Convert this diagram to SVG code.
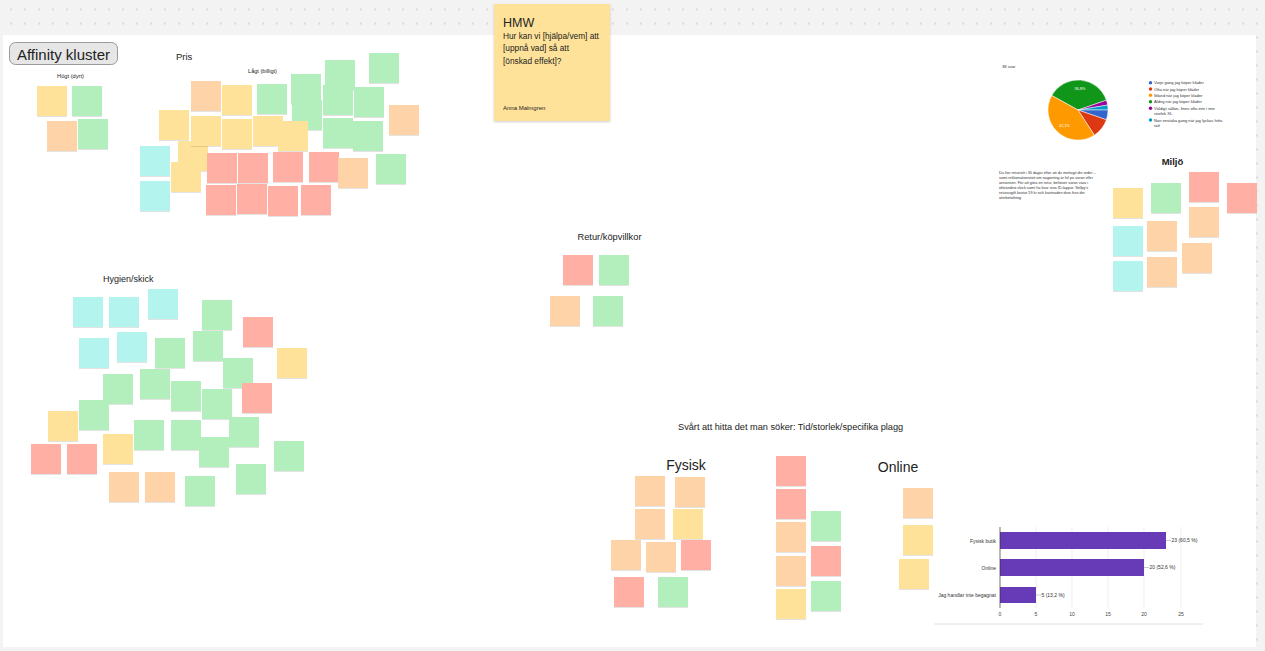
<svg xmlns="http://www.w3.org/2000/svg" width="1265" height="651" viewBox="0 0 1265 651">
<style>
text{font-family:"Liberation Sans",Arial,sans-serif;fill:#222}
.note rect{filter:url(#sh);width:30px;height:30px}
.y{fill:#FFE299}
.o{fill:#FFD3A8}
.r{fill:#FFAFA3}
.g{fill:#B3EFBD}
.c{fill:#B3F4EF}
.lg{font-size:4.1px;fill:#333}
.pa{font-size:3.8px;fill:#333}
.ax{font-size:5px;fill:#444}
.grid{stroke:#e3e3e3;stroke-width:0.6}
.bar{fill:#673AB7}
.lead{stroke:#999;stroke-width:0.5}
</style>
<defs>
<pattern id="dots" patternUnits="userSpaceOnUse" x="4" y="2.5" width="14" height="14">
<circle cx="7" cy="7" r="0.75" fill="#b9b9b9"/>
</pattern>
<filter id="sh" x="-20%" y="-20%" width="140%" height="150%">
<feDropShadow dx="0" dy="0.6" stdDeviation="0.6" flood-color="#000" flood-opacity="0.18"/>
</filter>
<filter id="sh2" x="-10%" y="-10%" width="120%" height="120%">
<feDropShadow dx="0" dy="1" stdDeviation="1" flood-color="#000" flood-opacity="0.2"/>
</filter>
</defs>

<rect x="0" y="0" width="1265" height="651" fill="#f3f3f3"/>
<rect x="0" y="0" width="1265" height="651" fill="url(#dots)"/>
<rect x="3" y="35" width="1253" height="612" fill="#ffffff"/>

<g id="connectors"></g>

<g id="title">
<rect x="9.5" y="42.5" width="108" height="22" rx="6" fill="#e6e6e6" stroke="#9a9a9a" stroke-width="1"/>
<text x="63.5" y="59.5" font-size="15" text-anchor="middle" fill="#1e1e1e">Affinity kluster</text>
</g>

<g id="hmw">
<rect x="494" y="4" width="116" height="117" fill="#FFE299" filter="url(#sh2)"/>
<text x="503" y="27" font-size="12.5" fill="#333">HMW</text>
<text x="503" y="39" font-size="8.3" fill="#333">Hur kan vi [hjälpa/vem] att</text>
<text x="503" y="51.3" font-size="8.3" fill="#333">[uppnå vad] så att</text>
<text x="503" y="63.6" font-size="8.3" fill="#333">[önskad effekt]?</text>
<text x="503" y="109.5" font-size="6" fill="#7a7a6a">Anna Malmgren</text>
</g>

<g id="pris-labels">
<text x="176" y="59.5" font-size="9.5">Pris</text>
<text x="70.5" y="78" font-size="5.7" text-anchor="middle">Högt (dyrt)</text>
<text x="262.5" y="73" font-size="5.6" text-anchor="middle">Lågt (billigt)</text>
</g>
<g id="hogt-1" class="note"><rect class="y" x="37" y="86"/></g>
<g id="hogt-2" class="note"><rect class="g" x="72" y="86"/></g>
<g id="hogt-3" class="note"><rect class="o" x="47" y="121"/></g>
<g id="hogt-4" class="note"><rect class="g" x="78" y="119"/></g>

<g id="pris-1" class="note"><rect class="o" x="191" y="81"/></g>
<g id="pris-2" class="note"><rect class="y" x="222" y="85"/></g>
<g id="pris-3" class="note"><rect class="g" x="257" y="84"/></g>
<g id="pris-4" class="note"><rect class="g" x="291" y="74"/></g>
<g id="pris-5" class="note"><rect class="g" x="292" y="100"/></g>
<g id="pris-6" class="note"><rect class="g" x="325" y="60"/></g>
<g id="pris-7" class="note"><rect class="g" x="323" y="85"/></g>
<g id="pris-8" class="note"><rect class="g" x="354" y="87"/></g>
<g id="pris-9" class="note"><rect class="g" x="369" y="53"/></g>
<g id="pris-10" class="note"><rect class="o" x="389" y="105"/></g>
<g id="pris-11" class="note"><rect class="g" x="323" y="118"/></g>
<g id="pris-12" class="note"><rect class="g" x="353" y="121"/></g>
<g id="pris-13" class="note"><rect class="g" x="376" y="154"/></g>
<g id="pris-14" class="note"><rect class="y" x="159" y="110"/></g>
<g id="pris-15" class="note"><rect class="y" x="178" y="141"/></g>
<g id="pris-16" class="note"><rect class="y" x="191" y="116"/></g>
<g id="pris-17" class="note"><rect class="y" x="222" y="119"/></g>
<g id="pris-18" class="note"><rect class="y" x="253" y="116"/></g>
<g id="pris-19" class="note"><rect class="y" x="278" y="121"/></g>
<g id="pris-20" class="note"><rect class="y" x="171" y="162"/></g>
<g id="pris-21" class="note"><rect class="c" x="140" y="146"/></g>
<g id="pris-22" class="note"><rect class="c" x="140" y="181"/></g>
<g id="pris-23" class="note"><rect class="r" x="207" y="153"/></g>
<g id="pris-24" class="note"><rect class="r" x="238" y="153"/></g>
<g id="pris-25" class="note"><rect class="r" x="273" y="152"/></g>
<g id="pris-26" class="note"><rect class="r" x="309" y="152"/></g>
<g id="pris-27" class="note"><rect class="o" x="338" y="158"/></g>
<g id="pris-28" class="note"><rect class="r" x="206" y="185"/></g>
<g id="pris-29" class="note"><rect class="r" x="237" y="184"/></g>
<g id="pris-30" class="note"><rect class="r" x="268" y="186"/></g>
<g id="pris-31" class="note"><rect class="r" x="301" y="185"/></g>

<g id="hygien-label"><text x="103" y="282" font-size="9">Hygien/skick</text></g>
<g id="hyg-1" class="note"><rect class="c" x="73" y="297"/></g>
<g id="hyg-2" class="note"><rect class="c" x="109" y="297"/></g>
<g id="hyg-3" class="note"><rect class="c" x="148" y="289"/></g>
<g id="hyg-4" class="note"><rect class="c" x="79" y="338"/></g>
<g id="hyg-5" class="note"><rect class="c" x="117" y="332"/></g>
<g id="hyg-6" class="note"><rect class="g" x="155" y="338"/></g>
<g id="hyg-7" class="note"><rect class="g" x="202" y="300"/></g>
<g id="hyg-8" class="note"><rect class="g" x="193" y="331"/></g>
<g id="hyg-9" class="note"><rect class="r" x="243" y="317"/></g>
<g id="hyg-10" class="note"><rect class="y" x="277" y="348"/></g>
<g id="hyg-11" class="note"><rect class="g" x="223" y="358"/></g>
<g id="hyg-12" class="note"><rect class="r" x="242" y="383"/></g>
<g id="hyg-13" class="note"><rect class="g" x="103" y="374"/></g>
<g id="hyg-14" class="note"><rect class="g" x="140" y="369"/></g>
<g id="hyg-15" class="note"><rect class="g" x="171" y="381"/></g>
<g id="hyg-16" class="note"><rect class="g" x="202" y="389"/></g>
<g id="hyg-17" class="note"><rect class="g" x="79" y="400"/></g>
<g id="hyg-18" class="note"><rect class="y" x="48" y="411"/></g>
<g id="hyg-19" class="note"><rect class="r" x="31" y="444"/></g>
<g id="hyg-20" class="note"><rect class="r" x="67" y="444"/></g>
<g id="hyg-21" class="note"><rect class="y" x="103" y="434"/></g>
<g id="hyg-22" class="note"><rect class="g" x="134" y="420"/></g>
<g id="hyg-23" class="note"><rect class="g" x="171" y="420"/></g>
<g id="hyg-24" class="note"><rect class="g" x="199" y="437"/></g>
<g id="hyg-25" class="note"><rect class="g" x="229" y="417"/></g>
<g id="hyg-26" class="note"><rect class="g" x="274" y="441"/></g>
<g id="hyg-27" class="note"><rect class="o" x="109" y="472"/></g>
<g id="hyg-28" class="note"><rect class="o" x="145" y="472"/></g>
<g id="hyg-29" class="note"><rect class="g" x="185" y="476"/></g>
<g id="hyg-30" class="note"><rect class="g" x="236" y="464"/></g>

<g id="retur-label"><text x="609.5" y="239.5" font-size="9.3" text-anchor="middle">Retur/köpvillkor</text></g>
<g id="retur-1" class="note"><rect class="r" x="563" y="255"/></g>
<g id="retur-2" class="note"><rect class="g" x="599" y="255"/></g>
<g id="retur-3" class="note"><rect class="o" x="550" y="296"/></g>
<g id="retur-4" class="note"><rect class="g" x="593" y="296"/></g>

<g id="svart-label"><text x="678" y="430" font-size="9.2">Svårt att hitta det man söker: Tid/storlek/specifika plagg</text></g>
<g id="fysisk-label"><text x="686" y="470" font-size="14" text-anchor="middle">Fysisk</text></g>
<g id="online-label"><text x="898" y="472" font-size="14" text-anchor="middle">Online</text></g>

<g id="fys-1" class="note"><rect class="o" x="635" y="476"/></g>
<g id="fys-2" class="note"><rect class="o" x="675" y="477"/></g>
<g id="fys-3" class="note"><rect class="o" x="635" y="509"/></g>
<g id="fys-4" class="note"><rect class="y" x="673" y="509"/></g>
<g id="fys-5" class="note"><rect class="o" x="611" y="540"/></g>
<g id="fys-6" class="note"><rect class="o" x="646" y="542"/></g>
<g id="fys-7" class="note"><rect class="r" x="681" y="540"/></g>
<g id="fys-8" class="note"><rect class="r" x="614" y="577"/></g>
<g id="fys-9" class="note"><rect class="g" x="658" y="577"/></g>

<g id="mid-1" class="note"><rect class="r" x="776" y="456"/></g>
<g id="mid-2" class="note"><rect class="r" x="776" y="489"/></g>
<g id="mid-3" class="note"><rect class="o" x="776" y="522"/></g>
<g id="mid-4" class="note"><rect class="o" x="776" y="556"/></g>
<g id="mid-5" class="note"><rect class="y" x="776" y="589"/></g>
<g id="mid-6" class="note"><rect class="g" x="811" y="511"/></g>
<g id="mid-7" class="note"><rect class="r" x="811" y="546"/></g>
<g id="mid-8" class="note"><rect class="g" x="811" y="581"/></g>

<g id="onl-1" class="note"><rect class="o" x="903" y="488"/></g>
<g id="onl-2" class="note"><rect class="y" x="903" y="525"/></g>
<g id="onl-3" class="note"><rect class="y" x="899" y="559"/></g>

<g id="bar-chart">
<line class="grid" x1="1036" y1="527" x2="1036" y2="608"/>
<line class="grid" x1="1072" y1="527" x2="1072" y2="608"/>
<line class="grid" x1="1108" y1="527" x2="1108" y2="608"/>
<line class="grid" x1="1144" y1="527" x2="1144" y2="608"/>
<line class="grid" x1="1181" y1="527" x2="1181" y2="608"/>
<rect class="bar" x="1000" y="532" width="166" height="17"/>
<rect class="bar" x="1000" y="559" width="144" height="17"/>
<rect class="bar" x="1000" y="587" width="36" height="16"/>
<line x1="1000" y1="527" x2="1000" y2="608" stroke="#333" stroke-width="0.7"/>
<line class="lead" x1="1166" y1="540.5" x2="1171" y2="540.5"/>
<line class="lead" x1="1144" y1="567.5" x2="1149" y2="567.5"/>
<line class="lead" x1="1036" y1="595" x2="1041" y2="595"/>
<text class="ax" x="1171.5" y="542.3" style="fill:#333">23 (60,5 %)</text>
<text class="ax" x="1149.5" y="569.3" style="fill:#333">20 (52,6 %)</text>
<text class="ax" x="1041.5" y="596.8" style="fill:#333">5 (13,2 %)</text>
<text class="ax" x="996" y="542.7" text-anchor="end" style="fill:#333">Fysisk butik</text>
<text class="ax" x="996" y="569.7" text-anchor="end" style="fill:#333">Online</text>
<text class="ax" x="996" y="596.7" text-anchor="end" style="fill:#333">Jag handlar inte begagnat</text>
<text class="ax" x="1000" y="616" text-anchor="middle">0</text>
<text class="ax" x="1036" y="616" text-anchor="middle">5</text>
<text class="ax" x="1072" y="616" text-anchor="middle">10</text>
<text class="ax" x="1108" y="616" text-anchor="middle">15</text>
<text class="ax" x="1144" y="616" text-anchor="middle">20</text>
<text class="ax" x="1181" y="616" text-anchor="middle">25</text>
<line x1="934" y1="624" x2="1203" y2="624" stroke="#e0e0e0" stroke-width="1"/>
</g>

<g id="pie-chart">
<text class="lg" x="1002" y="67.5">38 svar</text>
<g stroke="#fff" stroke-width="0.5">
<path d="M1078,110 L1051.76,95.46 A30,30 0 0 1 1106.37,100.23 Z" fill="#109618"/>
<path d="M1078,110 L1106.37,100.23 A30,30 0 0 1 1107.59,105.05 Z" fill="#990099"/>
<path d="M1078,110 L1107.59,105.05 A30,30 0 0 1 1108,110 Z" fill="#0099C6"/>
<path d="M1078,110 L1108,110 A30,30 0 0 1 1106.37,119.77 Z" fill="#3366CC"/>
<path d="M1078,110 L1106.37,119.77 A30,30 0 0 1 1094.34,135.16 Z" fill="#DC3912"/>
<path d="M1078,110 L1094.34,135.16 A30,30 0 0 1 1051.76,95.46 Z" fill="#FF9900"/>
</g>
<text x="1080" y="89.5" font-size="3.8" text-anchor="middle" style="fill:#fff">36,8%</text>
<text x="1064.5" y="127" font-size="3.8" text-anchor="middle" style="fill:#fff">42,1%</text>
<circle cx="1150.5" cy="82.7" r="1.7" fill="#3366CC"/>
<circle cx="1150.5" cy="89" r="1.7" fill="#DC3912"/>
<circle cx="1150.5" cy="95.2" r="1.7" fill="#FF9900"/>
<circle cx="1150.5" cy="101.7" r="1.7" fill="#109618"/>
<circle cx="1150.5" cy="108.2" r="1.7" fill="#990099"/>
<circle cx="1150.5" cy="120" r="1.7" fill="#0099C6"/>
<text class="lg" x="1154" y="84.2">Varje gång jag köper kläder</text>
<text class="lg" x="1154" y="90.5">Ofta när jag köper kläder</text>
<text class="lg" x="1154" y="96.7">Ibland när jag köper kläder</text>
<text class="lg" x="1154" y="103.2">Aldrig när jag köper kläder</text>
<text class="lg" x="1154" y="109.7">Väldigt sällan, finns ofta inte i min</text>
<text class="lg" x="1154" y="114.7">storlek XL</text>
<text class="lg" x="1154" y="121.5">Nån enstaka gång när jag lyckas hitta</text>
<text class="lg" x="1154" y="126.5">rätt</text>
</g>

<g id="retur-info">
<text class="pa" x="999" y="174.3">Du har returrätt i 30 dagar efter att du mottagit din order –</text>
<text class="pa" x="999" y="179.2">samt reklamationsrätt om någonting är fel på varan eller</text>
<text class="pa" x="999" y="184.1">annonsen. För att göra en retur, behöver varan vara i</text>
<text class="pa" x="999" y="189">oförändrat skick samt ha kvar sina ID-lappar. Sellpy's</text>
<text class="pa" x="999" y="193.9">returavgift kostar 59 kr och kostnaden dras från din</text>
<text class="pa" x="999" y="198.8">återbetalning.</text>
</g>

<g id="miljo-label"><text x="1172.5" y="165" font-size="9.5" font-weight="bold" text-anchor="middle">Miljö</text></g>
<g id="miljo-1" class="note"><rect class="y" x="1113" y="188"/></g>
<g id="miljo-2" class="note"><rect class="g" x="1151" y="183"/></g>
<g id="miljo-3" class="note"><rect class="r" x="1189" y="172"/></g>
<g id="miljo-4" class="note"><rect class="r" x="1227" y="183"/></g>
<g id="miljo-5" class="note"><rect class="c" x="1113" y="226"/></g>
<g id="miljo-6" class="note"><rect class="o" x="1147" y="221"/></g>
<g id="miljo-7" class="note"><rect class="o" x="1189" y="207"/></g>
<g id="miljo-8" class="note"><rect class="o" x="1182" y="243"/></g>
<g id="miljo-9" class="note"><rect class="c" x="1113" y="261"/></g>
<g id="miljo-10" class="note"><rect class="o" x="1147" y="257"/></g>
</svg>
